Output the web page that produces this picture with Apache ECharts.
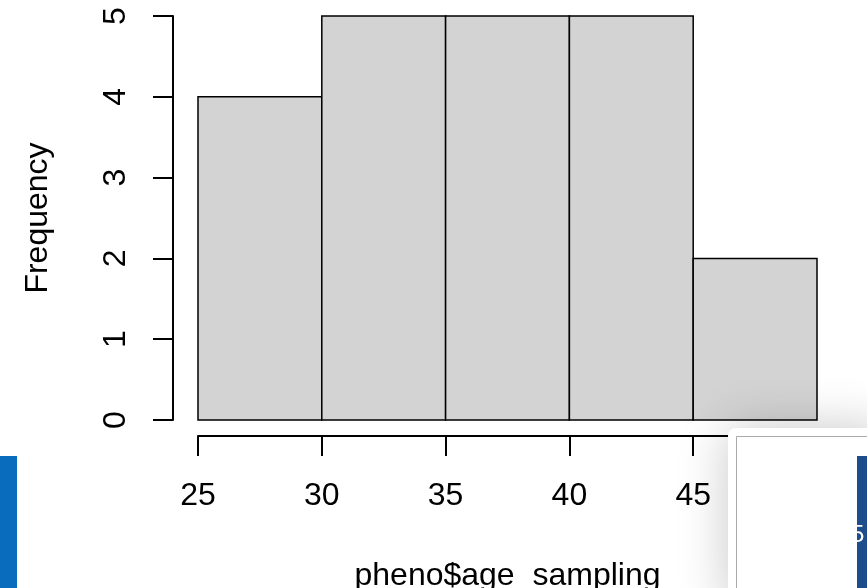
<!DOCTYPE html>
<html>
<head>
<meta charset="utf-8">
<script src="https://cdn.jsdelivr.net/npm/echarts@6/dist/echarts.min.js"></script>
<style>
html,body{margin:0;padding:0;background:#fff;}
#chart{width:867px;height:588px;}
</style>
</head>
<body>
<div id="chart"></div>
<script>
var binStarts = [25, 30, 35, 40, 45];
var binEnds = [30, 35, 40, 45, 50];
var frequencies = [4, 5, 5, 5, 2];
var xTicks = [25, 30, 35, 40, 45, 50];
var yTicks = [0, 1, 2, 3, 4, 5];
var xTitle = 'pheno$age_sampling';
var yTitle = 'Frequency';

var data = binStarts.map(function (s, i) { return [s, binEnds[i], frequencies[i]]; });
var FONT = 'Liberation Sans, Arial, Helvetica, sans-serif';

var chart = echarts.init(document.getElementById('chart'));
chart.setOption({
  animation: false,
  backgroundColor: '#ffffff',
  grid: { left: 198, right: 50, top: 16, bottom: 168, containLabel: false, outerBoundsMode: 'none' },
  xAxis: {
    type: 'value', min: xTicks[0], max: xTicks[xTicks.length - 1], interval: 5,
    offset: 16,
    splitLine: { show: false },
    axisLine: { show: true, onZero: false, lineStyle: { color: '#000', width: 2 } },
    axisTick: { show: true, length: 20, lineStyle: { color: '#000', width: 2 } },
    axisLabel: { color: '#000', fontSize: 32, fontFamily: FONT, margin: 44 },
    name: xTitle, nameLocation: 'middle', nameGap: 124,
    nameTextStyle: { color: '#000', fontSize: 32, fontFamily: FONT }
  },
  yAxis: {
    type: 'value', min: yTicks[0], max: yTicks[yTicks.length - 1], interval: 1,
    offset: 25,
    splitLine: { show: false },
    axisLine: { show: true, onZero: false, lineStyle: { color: '#000', width: 2 } },
    axisTick: { show: true, length: 20, lineStyle: { color: '#000', width: 2 } },
    axisLabel: { color: '#000', fontSize: 32, fontFamily: FONT, margin: 41, rotate: 90 },
    name: yTitle, nameLocation: 'middle', nameGap: 119,
    nameTextStyle: { color: '#000', fontSize: 32, fontFamily: FONT }
  },
  series: [{
    type: 'custom',
    data: data,
    encode: { x: [0, 1], y: 2 },
    renderItem: function (params, api) {
      var p0 = api.coord([api.value(0), api.value(2)]);
      var p1 = api.coord([api.value(1), 0]);
      return {
        type: 'rect',
        shape: { x: p0[0], y: p0[1], width: p1[0] - p0[0], height: p1[1] - p0[1] },
        style: { fill: '#d3d3d3', stroke: '#000', lineWidth: 1.5 }
      };
    }
  }],
  graphic: [
    { type: 'rect', z: 100, shape: { x: 0, y: 456, width: 17, height: 132 }, style: { fill: '#0a6cbc' } },
    { type: 'rect', z: 100, shape: { x: 728, y: 428, width: 160, height: 180, r: 8 },
      style: { fill: '#ffffff', shadowBlur: 50, shadowColor: 'rgba(0,0,0,0.22)', shadowOffsetX: 0, shadowOffsetY: 0 } },
    { type: 'rect', z: 101, shape: { x: 736.5, y: 436.5, width: 140, height: 160 },
      style: { fill: '#ffffff', stroke: '#aaaaaa', lineWidth: 1 } },
    { type: 'rect', z: 102, shape: { x: 857, y: 456, width: 10, height: 132 }, style: { fill: '#1e4d8c' } },
    { type: 'text', z: 103, style: { x: 851, y: 535, text: '5', fill: '#ffffff', font: '24px ' + FONT, verticalAlign: 'middle' } }
  ]
});
</script>
</body>
</html>
